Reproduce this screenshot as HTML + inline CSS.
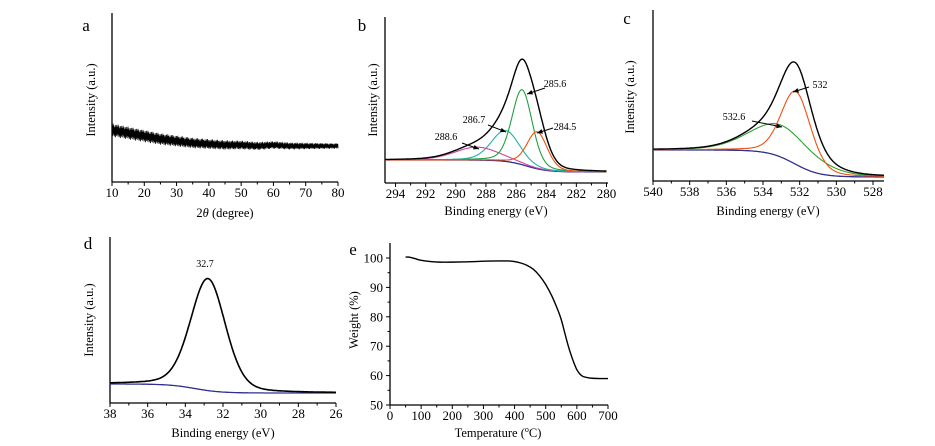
<!DOCTYPE html>
<html><head><meta charset="utf-8"><style>
body{margin:0;background:#fff}
svg{display:block;font-family:"Liberation Serif",serif}
.t{font-size:13px}
.l{font-size:12.5px}
.p{font-size:17px}
.ann{font-size:10px}
</style></head><body>
<svg id="fig" width="935" height="446" viewBox="0 0 935 446"></svg>
<script>
// ---- data ----
const aX = [10,15,20,25,30,35,40,45,50,55,60,65,70,75,80];
const aY = [52,49,46,43,41,39,38,37,37,36,37,36,36,36,36];
const bCenters = [288.6,286.7,285.6,284.6];
const bHeights = [13,31,75,37];
const bWidths = [3.5,2.2,1.6,1.6];
const bColors = ['#d040a0','#20b0b0','#20a040','#f05010'];
const bLabels = ['288.6','286.7','285.6','284.5'];
const cCenters = [533.0,532.2];
const cHeights = [32,73];
const cWidths = [4.0,1.9];
const cColors = ['#30a030','#f05010'];
const cLabels = ['532.6','532'];
const dCenters = [32.8];
const dHeights = [112];
const dWidths = [2.2];
const eT = [50,60,80,100,130,160,200,250,300,350,380,400,420,440,460,480,500,520,540,550,560,570,580,590,600,610,620,635,650,675,700];
const eW = [100.3,100.3,99.8,99.2,98.8,98.6,98.6,98.7,98.9,99.0,99.0,98.8,98.3,97.5,96.2,94.0,91.0,87.0,82.0,79.0,75.0,71.0,67.5,64.5,62.0,60.5,59.7,59.3,59.1,59.0,59.0];

const NS='http://www.w3.org/2000/svg';
const svg=document.getElementById('fig');
function el(tag,attrs,parent){const e=document.createElementNS(NS,tag);for(const k in attrs)e.setAttribute(k,attrs[k]);(parent||svg).appendChild(e);return e;}
function txt(x,y,s,cls,anchor,parent){const e=el('text',{x:x,y:y,class:cls,'text-anchor':anchor||'middle'},parent);e.textContent=s;return e;}
function scale(d0,d1,r0,r1){return v=>r0+(v-d0)*(r1-r0)/(d1-d0);}
function peak(x,c,h,w){const s=w/2.355;const g=Math.exp(-0.5*((x-c)/s)**2);const l=1/(1+((x-c)/(w/2))**2);return h*(0.75*g+0.25*l);}
function step(x,c,w,left,right){return right+(left-right)/(1+Math.exp(-(x-c)/w));}

function axes(g,x0,x1,yTop,yBot,ticks,fx,minor){
  el('line',{x1:x0,y1:yTop,x2:x0,y2:yBot,stroke:'#000','stroke-width':1.3},g);
  el('line',{x1:x0,y1:yBot,x2:x1,y2:yBot,stroke:'#000','stroke-width':1.3},g);
  ticks.forEach(t=>{const x=fx(t);el('line',{x1:x,y1:yBot,x2:x,y2:yBot+4,stroke:'#000'},g);txt(x,yBot+15,String(t),'t','middle',g);});
  minor.forEach(t=>{const x=fx(t);el('line',{x1:x,y1:yBot,x2:x,y2:yBot+2.5,stroke:'#000'},g);});
}
function ytitle(g,x,y,s){const e=txt(x,y,s,'l','middle',g);e.setAttribute('transform',`rotate(-90 ${x} ${y})`);return e;}
function path(g,pts,color,w,name){const e=el('path',{d:'M'+pts.map(p=>p[0].toFixed(1)+','+p[1].toFixed(1)).join('L'),fill:'none',stroke:color,'stroke-width':w},g);return e;}
function arrow(g,x1,y1,x2,y2){el('line',{x1:x1,y1:y1,x2:x2,y2:y2,stroke:'#000','stroke-width':1},g);const a=Math.atan2(y2-y1,x2-x1);const L=6;el('polygon',{points:`${x2},${y2} ${x2-L*Math.cos(a-0.4)},${y2-L*Math.sin(a-0.4)} ${x2-L*Math.cos(a+0.4)},${y2-L*Math.sin(a+0.4)}`,fill:'#000'},g);}
function range(a,b,s){const r=[];for(let v=a;v<=b+1e-9;v+=s)r.push(+v.toFixed(3));return r;}

// ---- panel a ----
{const g=el('g',{});
const fx=scale(10,80,112,338), yBot=182, fy=v=>yBot-v;
axes(g,112,338,13,yBot,range(10,80,10),fx,range(15,75,10));
txt(86,31,'a','p','middle',g);
ytitle(g,95,100,'Intensity (a.u.)');
const xl=txt(225,217,'','l','middle',g);xl.innerHTML='2<tspan font-style="italic">θ</tspan> (degree)';
function interp(x){for(let i=0;i<aX.length-1;i++)if(x<=aX[i+1]){const t=(x-aX[i])/(aX[i+1]-aX[i]);return aY[i]+t*(aY[i+1]-aY[i]);}return aY[aY.length-1];}
const pts=[];let i=0;for(let x=10;x<=80;x+=0.07){const amp=(2.2+3.3*(80-x)/70)*(0.2+((i*13)%11)/10);pts.push([fx(x),fy(interp(x)+(i%2?amp:-amp))]);i++;}
path(g,pts,'#000',0.8,'xrd-pattern');}

// ---- panel b ----
{const g=el('g',{});
const fx=scale(294.7,279.9,385,608), yBot=183, fy=v=>yBot-v;
axes(g,385,608,17,yBot,range(280,294,2),fx,range(281,293,2));
txt(362,31,'b','p','middle',g);
ytitle(g,377,100,'Intensity (a.u.)');
txt(496,215,'Binding energy (eV)','l','middle',g);
const bg=x=>step(x,285.3,0.7,23,11);
const xs=range(280,294.7,0.05);
path(g,xs.map(x=>[fx(x),fy(bg(x))]),'#303090',1.3,'background');
bCenters.forEach((c,k)=>{path(g,xs.map(x=>[fx(x),fy(bg(x)+peak(x,c,bHeights[k],bWidths[k]))]),bColors[k],1.1,'component-'+bLabels[k]);});
path(g,xs.map(x=>{let s=bg(x);bCenters.forEach((c,k)=>s+=peak(x,c,bHeights[k],bWidths[k]));return[fx(x),fy(s)];}),'#000',1.4,'envelope');
txt(555,87,'285.6','ann','middle',g);arrow(g,545,88,527,94);
txt(565,130,'284.5','ann','middle',g);arrow(g,553,128,537,133);
txt(474,123,'286.7','ann','middle',g);arrow(g,488,125,506,132);
txt(446,140,'288.6','ann','middle',g);arrow(g,462,143,479,149);}

// ---- panel c ----
{const g=el('g',{});
const fx=scale(540,528,653,873), yBot=181, fy=v=>yBot-v;
axes(g,653,884,10,yBot,range(528,540,2),fx,range(529,539,2));
txt(627,24,'c','p','middle',g);
ytitle(g,634,97,'Intensity (a.u.)');
txt(768,215,'Binding energy (eV)','l','middle',g);
const bg=x=>step(x,532.3,0.7,31,4);
const xs=range(527.4,540,0.04);
path(g,xs.map(x=>[fx(x),fy(bg(x))]),'#303090',1.3,'background');
cCenters.forEach((c,k)=>{path(g,xs.map(x=>[fx(x),fy(bg(x)+peak(x,c,cHeights[k],cWidths[k]))]),cColors[k],1.1,'component-'+cLabels[k]);});
path(g,xs.map(x=>{let s=bg(x);cCenters.forEach((c,k)=>s+=peak(x,c,cHeights[k],cWidths[k]));return[fx(x),fy(s)];}),'#000',1.4,'envelope');
txt(820,88,'532','ann','middle',g);arrow(g,809,87,793,92);
txt(734,120,'532.6','ann','middle',g);arrow(g,752,121,782,127);}

// ---- panel d ----
{const g=el('g',{});
const fx=scale(38,26,110,336), yBot=403, fy=v=>yBot-v;
axes(g,110,336,237,yBot,range(26,38,2),fx,range(27,37,2));
txt(88,249,'d','p','middle',g);
ytitle(g,93,320,'Intensity (a.u.)');
txt(223,437,'Binding energy (eV)','l','middle',g);
const bg=x=>step(x,33.5,0.7,19,10);
const xs=range(26,38,0.04);
path(g,xs.map(x=>[fx(x),fy(bg(x))]),'#303090',1.3,'background');
path(g,xs.map(x=>{let s=bg(x);dCenters.forEach((c,k)=>s+=peak(x,c,dHeights[k],dWidths[k]));return[fx(x),fy(s)];}),'#000',1.6,'peak');
txt(205,267,'32.7','ann','middle',g);}

// ---- panel e ----
{const g=el('g',{});
const fx=scale(0,700,390,608), fy=scale(50,100,405,258);
axes(g,390,608,243,405,range(0,700,100),fx,range(50,650,100));
range(50,100,10).forEach(v=>{const y=fy(v);el('line',{x1:390,y1:y,x2:386,y2:y,stroke:'#000'},g);txt(383,y+4.5,String(v),'t','end',g);});
range(55,95,10).forEach(v=>{const y=fy(v);el('line',{x1:390,y1:y,x2:387.5,y2:y,stroke:'#000'},g);});
txt(353,255,'e','p','middle',g);
ytitle(g,358,320,'Weight (%)');
const xl=txt(498,437,'','l','middle',g);xl.innerHTML='Temperature (<tspan dy="-5" font-size="8">o</tspan><tspan dy="5">C)</tspan>';
const pts=eT.map((t,i)=>[fx(t),fy(eW[i])]);
let d='M'+pts[0][0]+','+pts[0][1];
for(let i=0;i<pts.length-1;i++){const p0=pts[i-1]||pts[i],p1=pts[i],p2=pts[i+1],p3=pts[i+2]||p2;
d+=`C${p1[0]+(p2[0]-p0[0])/6},${p1[1]+(p2[1]-p0[1])/6} ${p2[0]-(p3[0]-p1[0])/6},${p2[1]-(p3[1]-p1[1])/6} ${p2[0]},${p2[1]}`;}
const c=el('path',{d:d,fill:'none',stroke:'#000','stroke-width':1.4},g);

}
</script>
</body></html>
